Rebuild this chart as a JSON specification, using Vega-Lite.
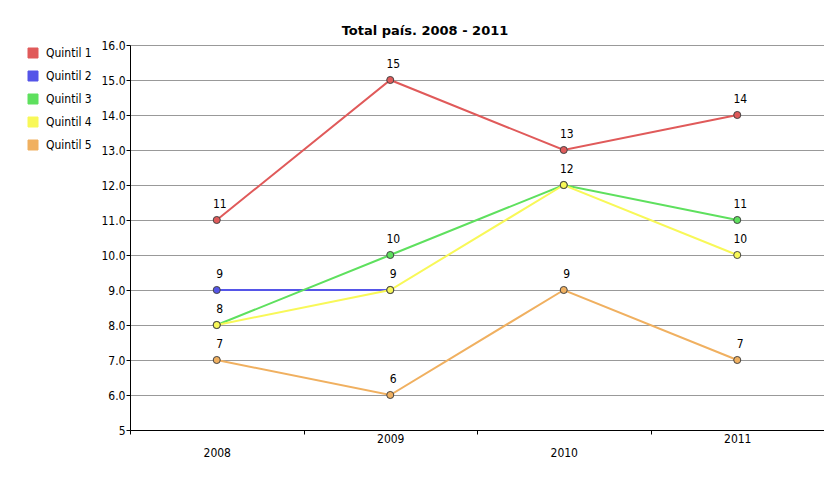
{
  "$schema": "https://vega.github.io/schema/vega-lite/v6.json",
  "width": 694,
  "height": 385,
  "autosize": "none",
  "padding": {"left": 130, "top": 45, "right": 0, "bottom": 47},
  "background": "white",
  "title": {"text": "Total país. 2008 - 2011", "font": "DejaVu Sans", "fontSize": 13, "fontWeight": "bold", "anchor": "middle", "dx": -52, "offset": 1, "color": "#000"},
  "config": {"view": {"stroke": null}},
  "data": {"values": [
    {"quintil": "Quintil 1", "year": "2008", "value": 11},
    {"quintil": "Quintil 1", "year": "2009", "value": 15},
    {"quintil": "Quintil 1", "year": "2010", "value": 13},
    {"quintil": "Quintil 1", "year": "2011", "value": 14},
    {"quintil": "Quintil 2", "year": "2008", "value": 9},
    {"quintil": "Quintil 2", "year": "2009", "value": 9},
    {"quintil": "Quintil 3", "year": "2008", "value": 8},
    {"quintil": "Quintil 3", "year": "2009", "value": 10},
    {"quintil": "Quintil 3", "year": "2010", "value": 12},
    {"quintil": "Quintil 3", "year": "2011", "value": 11},
    {"quintil": "Quintil 4", "year": "2008", "value": 8},
    {"quintil": "Quintil 4", "year": "2009", "value": 9},
    {"quintil": "Quintil 4", "year": "2010", "value": 12},
    {"quintil": "Quintil 4", "year": "2011", "value": 10},
    {"quintil": "Quintil 5", "year": "2008", "value": 7},
    {"quintil": "Quintil 5", "year": "2009", "value": 6},
    {"quintil": "Quintil 5", "year": "2010", "value": 9},
    {"quintil": "Quintil 5", "year": "2011", "value": 7}
  ]},
  "encoding": {
    "x": {
      "field": "year", "type": "ordinal",
      "scale": {"type": "band", "paddingInner": 0, "paddingOuter": 0},
      "axis": {
        "title": null, "labelAngle": 0, "tickBand": "extent", "tickSize": 4, "tickColor": "#000",
        "domainColor": "#000", "grid": false,
        "labelFont": "Liberation Sans Narrow, DejaVu Sans Condensed, Liberation Sans, sans-serif",
        "labelFontSize": 12, "labelColor": "#000",
        "labelPadding": {"expr": "datum.label == '2008' || datum.label == '2010' ? 13 : -1"}
      }
    },
    "y": {
      "field": "value", "type": "quantitative",
      "scale": {"domain": [5, 16], "nice": false, "zero": false},
      "axis": {
        "title": null, "values": [5, 6, 7, 8, 9, 10, 11, 12, 13, 14, 15, 16],
        "labelExpr": "datum.value == 5 ? '5' : format(datum.value, '.1f')",
        "grid": true, "gridColor": "#999", "gridWidth": 1,
        "domainColor": "#000", "tickColor": "#000", "tickSize": 4, "labelPadding": 1,
        "labelFont": "Liberation Sans Narrow, DejaVu Sans Condensed, Liberation Sans, sans-serif",
        "labelFontSize": 12, "labelColor": "#000"
      }
    },
    "color": {
      "field": "quintil", "type": "nominal",
      "scale": {
        "domain": ["Quintil 1", "Quintil 2", "Quintil 3", "Quintil 4", "Quintil 5"],
        "range": ["#e05a5a", "#5555e8", "#5ee05e", "#f8f858", "#f0b060"]
      },
      "legend": {
        "title": null, "orient": "none", "legendX": -103, "legendY": 2, "padding": 0,
        "symbolType": "square", "symbolSize": 100, "symbolStrokeColor": "#333", "symbolStrokeWidth": 1,
        "symbolOpacity": 1, "rowPadding": 9, "labelOffset": 7,
        "labelFont": "Liberation Sans Narrow, DejaVu Sans Condensed, Liberation Sans, sans-serif",
        "labelFontSize": 12, "labelColor": "#000"
      }
    }
  },
  "layer": [
    {"mark": {"type": "line", "strokeWidth": 2}},
    {"mark": {"type": "point", "filled": true, "size": 50, "stroke": "#444", "strokeWidth": 1, "opacity": 1}},
    {
      "transform": [
        {"window": [{"op": "row_number", "as": "r"}], "groupby": ["year", "value"]},
        {"filter": "datum.r == 1"}
      ],
      "mark": {"type": "text", "dy": -9, "dx": 3, "baseline": "bottom", "font": "Liberation Sans Narrow, DejaVu Sans Condensed, Liberation Sans, sans-serif", "fontSize": 12},
      "encoding": {"text": {"field": "value"}, "color": {"value": "#000"}}
    }
  ]
}
